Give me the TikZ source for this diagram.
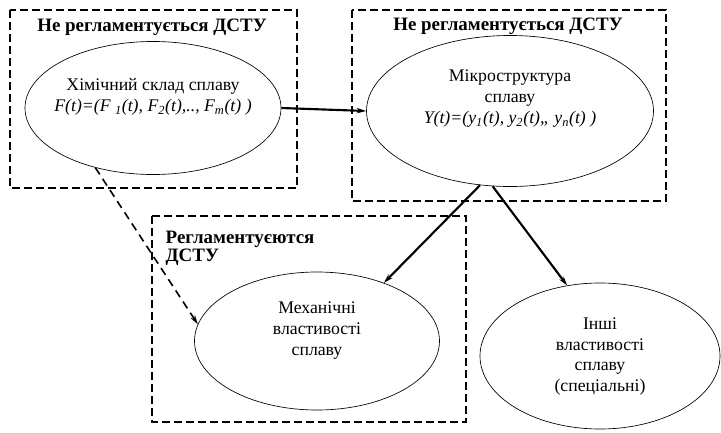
\documentclass[tikz,border=0pt]{standalone}
\usepackage{fontspec}
\setmainfont{Liberation Serif}
\usetikzlibrary{arrows.meta,positioning,shapes.geometric}

\tikzset{
  zone/.style={draw, line width=0.8pt, dash pattern=on 6pt off 3pt},
  blob/.style={draw, ellipse, line width=0.5pt, inner sep=-12pt, align=center, font=\fontsize{13.3}{15.5}\selectfont},
  heading/.style={font=\fontsize{14.2}{14}\selectfont\bfseries},
  link/.style={-{Stealth[length=7pt,width=4pt]}, line width=1.6pt},
  hint/.style={-{Stealth[length=7pt,width=4pt]}, line width=1.2pt, dash pattern=on 6pt off 4pt}
}

\begin{document}
\begin{tikzpicture}[x=0.75pt,y=-0.75pt]
  \useasboundingbox (0,0) rectangle (721,432);

  % Zones
  \draw[zone] (10,10) rectangle (297,188);
  \node[heading] (head1) at (152,27) {Не регламентується ДСТУ};
  \draw[zone] (352,10) rectangle (666,201);
  \node[heading] (head2) at (508,26) {Не регламентується ДСТУ};
  \draw[zone] (152,216) rectangle (466,422);
  \node[heading, align=left, anchor=north west] (head3) at (161,226) {Регламентуєются\\ДСТУ};

  % Ellipses
  \node[blob, minimum width=256*0.75pt, minimum height=133*0.75pt] (chem) at (153,108)
    {Хімічний склад сплаву\\
     \itshape F(t)=(F \textsubscript{1}(t), F\textsubscript{2}(t),.., F\textsubscript{m}(t) )\\[4pt]};
  \node[blob, minimum width=287*0.75pt, minimum height=151*0.75pt] (micro) at (510,111)
    {Мікроструктура\\сплаву\\
     \itshape Y(t)=(y\textsubscript{1}(t), y\textsubscript{2}(t),, y\textsubscript{n}(t) )\\[6pt]};
  \node[blob, minimum width=245*0.75pt, minimum height=138*0.75pt] (mech) at (317,341)
    {Механічні\\властивості\\сплаву\\[3pt]};
  \node[blob, minimum width=240*0.75pt, minimum height=146*0.75pt] (other) at (600,356)
    {\\[-6pt]Інші\\властивості\\сплаву\\(спеціальні)};

  % Connectors
  \draw[link] (chem.east) -- (micro.west);
  \draw[link] (micro.248) -- (mech.41);
  \draw[link] (micro.257) -- (other.115);
  \draw[hint] (chem.226) -- (mech.172);
\end{tikzpicture}
\end{document}
